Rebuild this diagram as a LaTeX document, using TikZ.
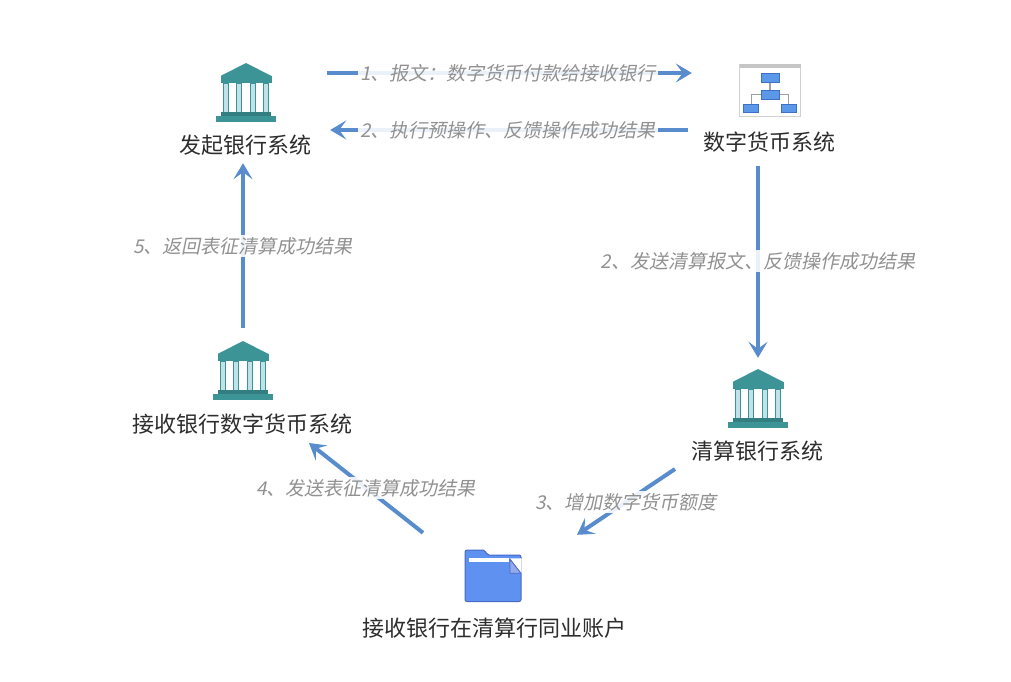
\documentclass[tikz,border=0pt]{standalone}
\usepackage{fontspec}
\usepackage{tikz}
\usetikzlibrary{arrows.meta}
\usepackage{xcolor}

\newfontfamily\zhfont{Noto Sans CJK SC}
\newfontfamily\zhit[FakeSlant=0.2]{Noto Sans CJK SC}

\definecolor{flowblue}{RGB}{88,140,205}
\definecolor{bankteal}{RGB}{60,148,150}
\definecolor{colblue}{RGB}{190,226,232}
\definecolor{boxblue}{RGB}{92,152,232}
\definecolor{boxline}{RGB}{62,112,200}
\definecolor{folderblue}{RGB}{95,145,240}
\definecolor{folderline}{RGB}{72,105,200}
\definecolor{foldlight}{RGB}{150,170,235}
\definecolor{labgray}{RGB}{145,145,145}
\definecolor{namegray}{RGB}{45,45,45}

\tikzset{
  flow/.style={line width=4pt, draw=flowblue, -{Stealth[length=16pt,width=19pt,inset=7pt]}},
  lab/.style={font=\zhit\fontsize{19}{21}\selectfont, text=labgray, fill=white, fill opacity=0.88, text opacity=1, inner sep=2pt},
  sysname/.style={font=\zhfont\fontsize{22}{24}\selectfont, text=namegray},
  iconbox/.style={inner sep=0pt, minimum width=62pt, minimum height=60pt}
}

\newcommand{\bankicon}[1]{
\begin{scope}[shift={(#1)}]
\fill[bankteal] (0,-29) -- (25.5,-16) -- (-25.5,-16) -- cycle;
\fill[bankteal] (-25.5,-16) rectangle (25.5,-9);
\foreach \c in {-20,-7,7,20}
  \draw[bankteal, fill=colblue, line width=1pt] (\c-2.8,-9) rectangle (\c+2.8,20);
\fill[bankteal!85!black] (-25,20) rectangle (25,24);
\fill[bankteal] (-30,24) rectangle (30,30);
\end{scope}
}

\newcommand{\flowicon}[1]{
\begin{scope}[shift={(#1)}]
\draw[gray!35, fill=white] (-30.5,-26) rectangle (30.5,26);
\fill[gray!45] (-30.5,-26) rectangle (30.5,-21.7);
\draw[gray!75, line width=1.5pt] (0,-7.7) -- (0,0);
\draw[gray!75, line width=1.5pt] (-18.5,14.3) |- (-9,4.3);
\draw[gray!75, line width=1.5pt] (18.5,14.3) |- (9,4.3);
\draw[boxline, fill=boxblue] (-9,-17.3) rectangle (9,-7.7);
\draw[boxline, fill=boxblue] (-9,0) rectangle (9,8.7);
\draw[boxline, fill=boxblue] (-26.4,14.3) rectangle (-11.4,21.7);
\draw[boxline, fill=boxblue] (11.3,14.3) rectangle (26.3,21.7);
\end{scope}
}

\newcommand{\foldericon}[1]{
\begin{scope}[shift={(#1)}]
\draw[folderline, fill=folderblue, line width=1pt, rounded corners=2pt]
  (-28,25.5) -- (-28,-26) -- (-8,-26) -- (-6,-21) -- (28,-21) -- (28,25.5) -- cycle;
\fill[white] (-23.7,-17.7) rectangle (15.5,-14.3);
\fill[white] (17,-17.7) -- (28.5,-17.7) -- (28.5,-2.7) -- cycle;
\draw[folderline, fill=foldlight, line width=0.8pt, line join=round] (17,-16.7) -- (17,-2.7) -- (28,-2.7) -- cycle;
\end{scope}
}

\begin{document}
\begin{tikzpicture}[x=1pt, y=-1pt]
\useasboundingbox (0,0) rectangle (1011,681);

% icons
\node[iconbox] (fq) at (246,92) {};
\node[iconbox] (sz) at (770,90) {};
\node[iconbox] (qs) at (758,398) {};
\node[iconbox] (js) at (243,370) {};
\node[iconbox, minimum width=56pt, minimum height=52pt] (zh) at (493,576) {};
\bankicon{fq}
\flowicon{sz}
\bankicon{qs}
\bankicon{js}
\foldericon{zh}

% names
\node[sysname] (fqtext) at (245,145) {发起银行系统};
\node[sysname] (sztext) at (769,142) {数字货币系统};
\node[sysname] (qstext) at (757,451) {清算银行系统};
\node[sysname] (jstext) at (242,424) {接收银行数字货币系统};
\node[sysname] (zhtext) at (494,628) {接收银行在清算行同业账户};

% flows
\draw[flow, shorten <=50pt, shorten >=47pt, transform canvas={yshift=19pt}]
  (fq.east) -- (fq.east -| sz.west) node[midway, lab] {1、报文：数字货币付款给接收银行};
\draw[flow, shorten <=51pt, shorten >=53pt, transform canvas={yshift=-40pt}]
  (sz.west) -- (sz.west -| fq.east) node[midway, lab] {2、执行预操作、反馈操作成功结果};
\draw[flow, shorten <=46pt, shorten >=10pt]
  (qs.north |- sz.south) -- (qs.north) node[pos=0.57, lab] {2、发送清算报文、反馈操作成功结果};
\draw[flow] ([xshift=-82pt, yshift=-18pt]qstext.center) -- ([xshift=84pt, yshift=15pt]zh.north)
  node[midway, lab] {3、增加数字货币额度};
\draw[flow] ([xshift=-70pt, yshift=17pt]zh.north) -- ([xshift=67pt, yshift=-19pt]jstext.center)
  node[midway, lab] {4、发送表征清算成功结果};
\draw[flow, shorten <=12pt, shorten >=41pt]
  (js.north) -- (js.north |- fq.south) node[pos=0.43, lab] {5、返回表征清算成功结果};
\end{tikzpicture}
\end{document}
